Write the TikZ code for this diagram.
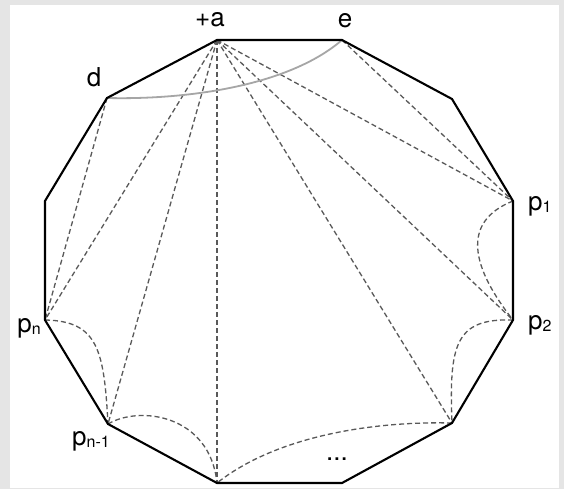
\documentclass[tikz,border=0pt]{standalone}
\usepackage{fontspec}
\setmainfont{TeX Gyre Heros}
\newcommand{\vlabel}[2]{#1\raisebox{-0.2ex}{\fontsize{16}{16}\selectfont #2}}

\begin{document}
\begin{tikzpicture}[x=1pt, y=-1pt, every node/.style={font=\fontsize{26}{30}\selectfont, inner sep=0pt},
  rim/.style={line width=2.1pt}, chord/.style={gray!70!black, line width=1.3pt, dash pattern=on 5pt off 3pt},
  geodesic/.style={gray!70, line width=1.8pt}]
	\fill[gray!20] (0,0) rectangle (564,489);
	\fill[white] (10,5) rectangle (559,488);
	\coordinate (a) at (217,40);
	\coordinate (e) at (342,40);
	\coordinate (ur) at (452,99);
	\coordinate (p1) at (513,201);
	\coordinate (p2) at (513,320);
	\coordinate (lr) at (452,423);
	\coordinate (br) at (342,483);
	\coordinate (bl) at (217,483);
	\coordinate (pn1) at (108,424);
	\coordinate (pn) at (45,320);
	\coordinate (lu) at (45,201);
	\coordinate (d) at (107,98);
	\foreach \t in {pn,pn1,bl,lr,p2,p1} \draw[chord] (a) -- (\t);
	\draw[chord] (e) -- (p1);
	\draw[chord] (d) -- (pn);
	\draw[chord] (p1) .. controls (460,222) and (472,268) .. (p2);
	\draw[chord] (p2) .. controls (455,318) and (449,345) .. (lr);
	\draw[chord] (lr) .. controls (370,421) and (275,437) .. (bl);
	\draw[chord] (pn1) .. controls (140,405) and (210,415) .. (bl);
	\draw[chord] (pn) .. controls (98,321) and (104,350) .. (pn1);
	\draw[geodesic] (d) .. controls (190,100) and (290,85) .. (e);
	\draw[rim] (a) -- (e) -- (ur) -- (p1) -- (p2) -- (lr) -- (br) -- (bl) -- (pn1) -- (pn) -- (lu) -- (d) -- cycle;
	\node[anchor=base] (la) at (210,27) {+a};
	\node[anchor=base] (le) at (345,28) {e};
	\node[anchor=base] (ld) at (94,87) {d};
	\node[anchor=base west] (lp1) at (528,210) {\vlabel{p}{1}};
	\node[anchor=base west] (lp2) at (528,329) {\vlabel{p}{2}};
	\node[anchor=base east] (lpn) at (41,332) {\vlabel{p}{n}};
	\node[anchor=base] (lpn1) at (91,445) {\vlabel{p}{n-1}};
	\node[anchor=base] (dots) at (337,460) {...};
\end{tikzpicture}
\end{document}
